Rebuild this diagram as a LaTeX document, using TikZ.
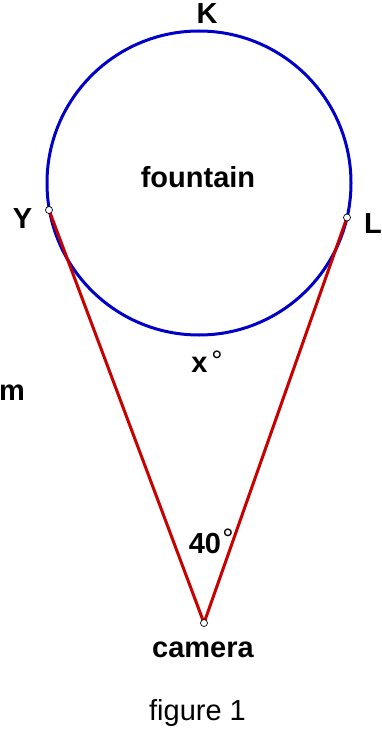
\documentclass[tikz,border=0pt]{standalone}
\usepackage{fontspec}
\setmainfont{Liberation Sans}
\begin{document}
\begin{tikzpicture}[x=1pt,y=-1pt,
  lbl/.style={inner sep=0pt,anchor=base,font=\fontsize{29}{31}\selectfont\bfseries},
  deg/.style={inner sep=0pt,anchor=base,font=\fontsize{28}{30}\selectfont},
  pt/.style={circle,draw=black,fill=white,line width=0.7pt,inner sep=0pt,minimum size=7pt},
  rim/.style={draw={rgb,255:red,0;green,0;blue,200},line width=3pt},
  sight/.style={draw={rgb,255:red,200;green,0;blue,0},line width=3pt}]
\useasboundingbox (0,0) rectangle (382,733);
\coordinate (O) at (199,183);
\path[rim] (O) circle (152);
\coordinate (Yc) at (49,210);
\coordinate (Lc) at (347,217.5);
\coordinate (Cc) at (204,623);
\draw[sight] (Cc) -- (Yc);
\draw[sight] (Cc) -- (Lc);
\node[pt] (Yp) at (Yc) {};
\node[pt] (Lp) at (Lc) {};
\node[pt] (Cp) at (Cc) {};
\node[lbl] (K) at (207,24) {K};
\node[lbl] (fountain) at (198,187) {fountain};
\node[lbl] (Y) at (22.5,228) {Y};
\node[lbl] (L) at (373,233) {L};
\node[lbl] (x) at (199.5,372) {x};
\node[deg] (xdeg) at (217,370) {°};
\node[lbl,anchor=base west] (m) at (-1,400) {m};
\node[lbl] (forty) at (205,553) {40};
\node[deg] (fdeg) at (228,548) {°};
\node[lbl] (camera) at (203,657) {camera};
\node[inner sep=0pt,anchor=base,font=\fontsize{29}{31}\selectfont] (fig) at (197.5,720) {figure 1};
\end{tikzpicture}
\end{document}
